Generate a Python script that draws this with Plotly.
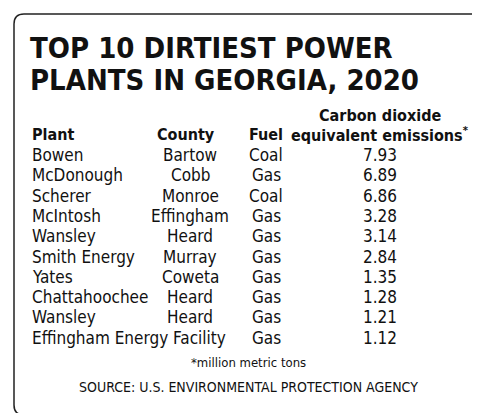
import plotly.graph_objects as go

W, H = 480, 413

title_lines = ["TOP 10 DIRTIEST POWER", "PLANTS IN GEORGIA, 2020"]
plants = ["Bowen", "McDonough", "Scherer", "McIntosh", "Wansley", "Smith Energy",
          "Yates", "Chattahoochee", "Wansley", "Effingham Energy Facility"]
counties = ["Bartow", "Cobb", "Monroe", "Effingham", "Heard", "Murray",
            "Coweta", "Heard", "Heard", ""]
fuels = ["Coal", "Gas", "Coal", "Gas", "Gas", "Gas", "Gas", "Gas", "Gas", "Gas"]
emissions = [7.93, 6.89, 6.86, 3.28, 3.14, 2.84, 1.35, 1.28, 1.21, 1.12]
footnote = "*million metric tons"
source = "SOURCE: U.S. ENVIRONMENTAL PROTECTION AGENCY"

FONT = "DejaVu Sans Condensed, Liberation Sans Narrow, sans-serif"

fig = go.Figure()
ann = []

def text(x, y, s, size=17, anchor="left", bold=False, color="#111"):
    if bold:
        s = "<b>" + s + "</b>"
    ann.append(dict(x=x, y=y, xref="x", yref="y", text=s,
                    showarrow=False, xanchor=anchor, yanchor="middle",
                    font=dict(family=FONT, size=size, color=color)))

# title
for i, line in enumerate(title_lines):
    text(20, 40 + i * 32, line, size=29, bold=True)

# header
text(372, 107, "Carbon dioxide", size=16, anchor="center", bold=True)
text(22, 126, "Plant", size=16, bold=True)
text(178, 126, "County", size=16, anchor="center", bold=True)
text(258, 126, "Fuel", size=16, anchor="center", bold=True)
text(372, 126, "equivalent emissions<sup>*</sup>", size=16, anchor="center", bold=True)

# rows
for i in range(len(plants)):
    y = 147 + i * 20.3
    text(22, y, plants[i])
    if counties[i]:
        text(182, y, counties[i], anchor="center")
    text(258, y, fuels[i], anchor="center")
    text(372, y, f"{emissions[i]:.2f}", anchor="center")

text(240, 354, footnote, size=13, anchor="center")
text(240, 379, source, size=14, anchor="center")

fig.update_layout(
    width=W, height=H,
    margin=dict(l=0, r=0, t=0, b=0),
    paper_bgcolor="white", plot_bgcolor="white",
    xaxis=dict(visible=False, range=[0, W], fixedrange=True),
    yaxis=dict(visible=False, range=[H, 0], fixedrange=True),
    annotations=ann,
    shapes=[dict(type="path", xref="x", yref="y",
                 path="M 16,6 L 464,6 Q 474,6 474,16 L 474,397 Q 474,407 464,407 "
                      "L 16,407 Q 6,407 6,397 L 6,16 Q 6,6 16,6 Z",
                 line=dict(color="#222", width=1.5))],
)

fig.write_html("out.html")
